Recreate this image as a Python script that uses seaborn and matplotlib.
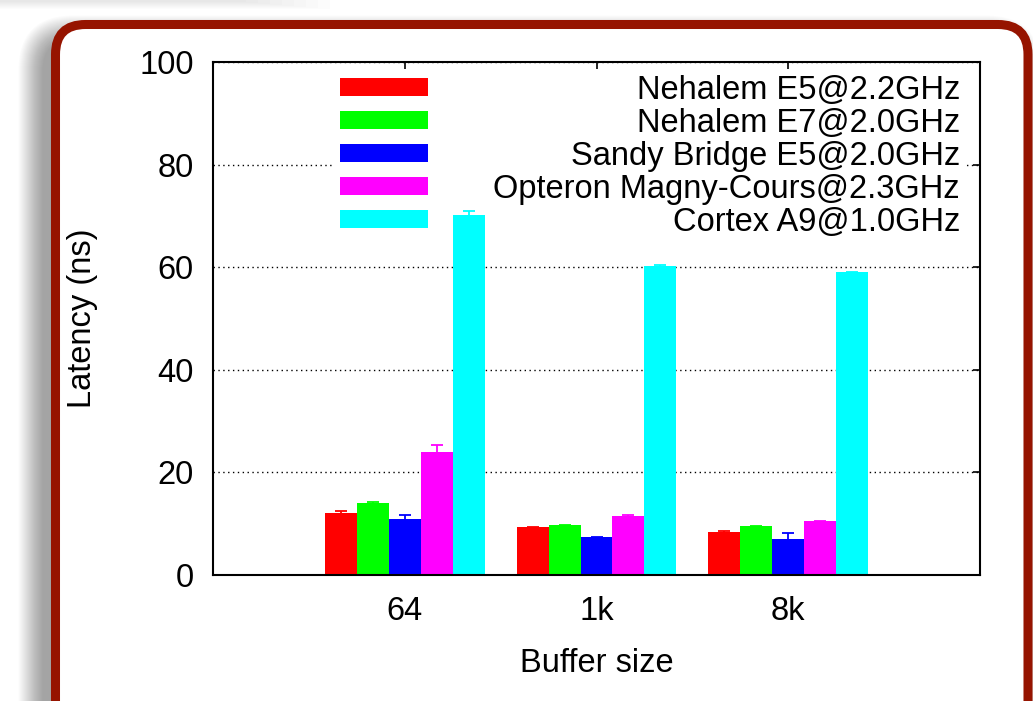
import matplotlib
matplotlib.use("Agg")
import matplotlib.pyplot as plt
import pandas as pd
import seaborn as sns
from matplotlib.patches import FancyBboxPatch, Rectangle

# ---- data ----
buffer_sizes = ["64", "1k", "8k"]
processors = [
    "Nehalem E5@2.2GHz",
    "Nehalem E7@2.0GHz",
    "Sandy Bridge E5@2.0GHz",
    "Opteron Magny-Cours@2.3GHz",
    "Cortex A9@1.0GHz",
]
latency_64 = [12.0, 14.0, 11.0, 24.0, 70.2]
latency_1k = [9.3, 9.7, 7.4, 11.5, 60.2]
latency_8k = [8.4, 9.5, 7.0, 10.5, 59.0]
err_64 = [0.4, 0.2, 0.7, 1.3, 0.8]
err_1k = [0.1, 0.1, 0.1, 0.1, 0.3]
err_8k = [0.2, 0.1, 1.1, 0.1, 0.1]
colors = ["#ff0000", "#00ff00", "#0000ff", "#ff00ff", "#00ffff"]
y_ticks = [0, 20, 40, 60, 80, 100]

rows = []
for size, vals, errs in zip(buffer_sizes, [latency_64, latency_1k, latency_8k],
                            [err_64, err_1k, err_8k]):
    for proc, v, e in zip(processors, vals, errs):
        rows.append({"size": size, "proc": proc, "latency": v, "err": e})
df = pd.DataFrame(rows)

sns.set_theme(style="white")
plt.rcParams["font.family"] = ["Liberation Sans", "DejaVu Sans"]
FS = 23.5

W, H = 1033, 701
fig = plt.figure(figsize=(W / 100, H / 100), dpi=100)
fig.patch.set_facecolor("white")

# ---- slide frame with soft shadow ----
bg = fig.add_axes([0, 0, 1, 1], zorder=-10)
bg.set_xlim(0, W)
bg.set_ylim(H, 0)
bg.axis("off")

# faint shadow strip along the top-left edge of the slide
for k in range(8):
    bg.add_patch(Rectangle((0, 0), 330 - 12 * k, 9 - k, facecolor="black",
                           edgecolor="none", alpha=0.012))

fx0, fy0, fx1, fy1 = 55.5, 24.5, 1028.0, 820.0
for k in range(25, 0, -1):
    bg.add_patch(FancyBboxPatch(
        (fx0 - 12 - k, fy0 + 16 - k), (fx1 - fx0) + 2 * k, (fy1 - fy0) + 2 * k,
        boxstyle=f"round,pad=0,rounding_size={30 + k}",
        facecolor="black", edgecolor="none", alpha=0.016))
bg.add_patch(FancyBboxPatch(
    (fx0, fy0), fx1 - fx0, fy1 - fy0,
    boxstyle="round,pad=0,rounding_size=30",
    facecolor="white", edgecolor="#961400", linewidth=6.5))

# ---- main plot ----
ax = fig.add_axes([213 / W, 1 - 575 / H, 767 / W, 513 / H])
ax.set_facecolor("white")
sns.barplot(data=df, x="size", y="latency", hue="proc",
            order=buffer_sizes, hue_order=processors, palette=colors,
            saturation=1, width=0.833, gap=0, errorbar=None,
            legend=False, ax=ax, zorder=2, linewidth=0)

# error bars at bar centres
bars = sorted(ax.patches, key=lambda p: p.get_x())
errs_flat = df["err"].tolist()
cols_flat = colors * len(buffer_sizes)
for p, e, c in zip(bars, errs_flat, cols_flat):
    xc = p.get_x() + p.get_width() / 2
    ax.errorbar(xc, p.get_height(), yerr=e, fmt="none", ecolor=c,
                elinewidth=1.3, capsize=4, capthick=1.3, zorder=3)

ax.set_xlim(-1, 3)
ax.set_ylim(0, 100)
ax.set_yticks(y_ticks)
ax.yaxis.grid(True, color="black", linestyle=(0, (1, 2.5)), linewidth=1.0, zorder=0.5)
ax.xaxis.grid(False)
ax.set_axisbelow(True)
for s in ax.spines.values():
    s.set_visible(True)
    s.set_color("black")
    s.set_linewidth(1.5)
    s.set_zorder(5)
ax.tick_params(axis="both", direction="in", top=True, right=True,
               length=5, width=1.2, color="black", labelsize=FS,
               labelcolor="black")
ax.tick_params(axis="y", pad=14)
ax.tick_params(axis="x", pad=15)

ax.set_xlabel("Buffer size", fontsize=FS, color="black")
ax.set_ylabel("Latency (ns)", fontsize=FS, color="black")
ax.xaxis.set_label_coords(0.5, -0.143)
ax.yaxis.set_label_coords(-0.150, 0.5)

# ---- key: swatches on the left, labels right-aligned ----
def ax_x(px):
    return (px - 213) / 767


def ax_y(py):
    return (575 - py) / 513


ax.add_patch(Rectangle((ax_x(335), ax_y(233)), ax_x(966) - ax_x(335),
                       ax_y(72) - ax_y(233), transform=ax.transAxes,
                       facecolor="white", edgecolor="none", zorder=1))
row_y = [87, 120, 153, 186, 219]
sw_h = 18
for name, c, py in zip(processors, colors, row_y):
    ax.add_patch(Rectangle((ax_x(340), ax_y(py + sw_h / 2)), ax_x(428) - ax_x(340),
                           sw_h / 513, transform=ax.transAxes,
                           facecolor=c, edgecolor="none", zorder=4))
    ax.text(ax_x(960), ax_y(py), name, transform=ax.transAxes, ha="right",
            va="center_baseline", fontsize=FS, color="black", zorder=4)

fig.savefig("out.png", dpi=100, facecolor="white")
